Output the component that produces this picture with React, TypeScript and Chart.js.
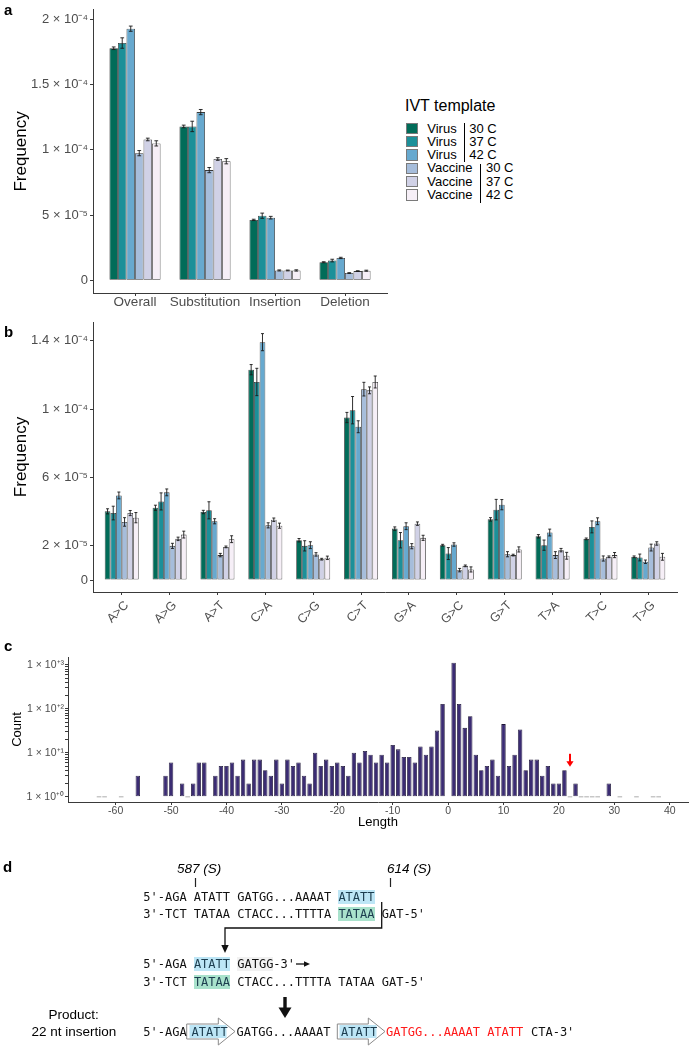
import React, { useEffect, useRef } from 'react';
import { Chart, registerables } from 'chart.js';

Chart.register(...registerables);

const SANS = '"Liberation Sans", Arial, Helvetica, sans-serif';
const MONO = '"DejaVu Sans Mono", monospace';
const TICK_GRAY = '#4d4d4d';
const AXIS = '#3a3a3a';

// ---------- shared series ----------
const SERIES_TEMPLATE = ['Virus', 'Virus', 'Virus', 'Vaccine', 'Vaccine', 'Vaccine'];
const SERIES_TEMP = ['30 C', '37 C', '42 C', '30 C', '37 C', '42 C'];
const SERIES_COLORS = ['#016c59', '#1c9099', '#67a9cf', '#a6bddb', '#d0d1e6', '#f6eff7'];

// ---------- panel a ----------
const A_CATEGORIES = ['Overall', 'Substitution', 'Insertion', 'Deletion'];
const A_VIRUS30 = [1.78e-4, 1.18e-4, 4.63e-5, 1.38e-5];
const A_VIRUS37 = [1.82e-4, 1.18e-4, 4.95e-5, 1.51e-5];
const A_VIRUS42 = [1.93e-4, 1.29e-4, 4.8e-5, 1.71e-5];
const A_VACCINE30 = [9.75e-5, 8.45e-5, 7.5e-6, 5.5e-6];
const A_VACCINE37 = [1.08e-4, 9.3e-5, 7.5e-6, 7.0e-6];
const A_VACCINE42 = [1.05e-4, 9.13e-5, 7.5e-6, 7.3e-6];
const A_ERR_VIRUS30 = [1.0e-6, 1.0e-6, 5e-7, 4e-7];
const A_ERR_VIRUS37 = [4.0e-6, 4.0e-6, 2.0e-6, 1.0e-6];
const A_ERR_VIRUS42 = [2.0e-6, 2.0e-6, 1.0e-6, 5e-7];
const A_ERR_VACCINE30 = [2.0e-6, 2.0e-6, 4e-7, 3e-7];
const A_ERR_VACCINE37 = [1.0e-6, 1.0e-6, 3e-7, 3e-7];
const A_ERR_VACCINE42 = [2.0e-6, 2.0e-6, 5e-7, 4e-7];
const A_TICKS = [0, 5e-5, 1e-4, 1.5e-4, 2e-4];
const A_TICK_LABELS = ['0', '5 × 10⁻⁵', '1 × 10⁻⁴', '1.5 × 10⁻⁴', '2 × 10⁻⁴'];
const A_Y_MIN = -9.8e-6;
const A_Y_MAX = 2.075e-4;

// ---------- panel b ----------
const B_CATEGORIES = ['A>C', 'A>G', 'A>T', 'C>A', 'C>G', 'C>T', 'G>A', 'G>C', 'G>T', 'T>A', 'T>C', 'T>G'];
const B_VIRUS30 = [4.02e-5, 4.23e-5, 3.98e-5, 1.231e-4, 2.33e-5, 9.51e-5, 3.01e-5, 2.04e-5, 3.55e-5, 2.56e-5, 2.41e-5, 1.36e-5];
const B_VIRUS37 = [3.92e-5, 4.6e-5, 4.08e-5, 1.159e-4, 2.0e-5, 9.94e-5, 2.33e-5, 1.55e-5, 4.12e-5, 2.04e-5, 3.11e-5, 1.32e-5];
const B_VIRUS42 = [4.95e-5, 5.13e-5, 3.44e-5, 1.392e-4, 2.04e-5, 8.97e-5, 3.15e-5, 2.08e-5, 4.41e-5, 2.78e-5, 3.44e-5, 1.07e-5];
const B_VACCINE30 = [3.4e-5, 2.0e-5, 1.46e-5, 3.2e-5, 1.5e-5, 1.117e-4, 1.98e-5, 5.8e-6, 1.51e-5, 1.46e-5, 1.26e-5, 1.9e-5];
const B_VACCINE37 = [3.92e-5, 2.41e-5, 1.94e-5, 3.53e-5, 1.22e-5, 1.11e-4, 3.3e-5, 8.3e-6, 1.46e-5, 1.75e-5, 1.36e-5, 2.14e-5];
const B_VACCINE42 = [3.65e-5, 2.66e-5, 2.39e-5, 3.18e-5, 1.3e-5, 1.159e-4, 2.47e-5, 6.2e-6, 1.79e-5, 1.42e-5, 1.46e-5, 1.36e-5];
const B_ERR_VIRUS30 = [1.5e-6, 1.5e-6, 1.0e-6, 3.0e-6, 1.0e-6, 3.0e-6, 1.0e-6, 5e-7, 1.0e-6, 1.0e-6, 5e-7, 5e-7];
const B_ERR_VIRUS37 = [4.0e-6, 5.0e-6, 5.0e-6, 8.0e-6, 3.0e-6, 8.0e-6, 4.5e-6, 3.5e-6, 6.0e-6, 3.0e-6, 3.5e-6, 2.0e-6];
const B_ERR_VIRUS42 = [2.0e-6, 2.0e-6, 1.5e-6, 5.0e-6, 2.0e-6, 3.5e-6, 2.0e-6, 1.0e-6, 3.0e-6, 2.0e-6, 2.0e-6, 1.0e-6];
const B_ERR_VACCINE30 = [2.5e-6, 1.5e-6, 1.0e-6, 1.5e-6, 1.0e-6, 4.0e-6, 1.5e-6, 1.0e-6, 1.5e-6, 2.0e-6, 1.5e-6, 2.0e-6];
const B_ERR_VACCINE37 = [1.5e-6, 1.0e-6, 5e-7, 1.0e-6, 5e-7, 2.0e-6, 1.0e-6, 5e-7, 5e-7, 1.0e-6, 5e-7, 1.0e-6];
const B_ERR_VACCINE42 = [3.0e-6, 2.0e-6, 2.0e-6, 1.5e-6, 1.0e-6, 3.5e-6, 1.5e-6, 1.5e-6, 1.5e-6, 2.0e-6, 1.5e-6, 2.0e-6];
const B_TICKS = [0, 2e-5, 6e-5, 1e-4, 1.4e-4];
const B_TICK_LABELS = ['0', '2 × 10⁻⁵', '6 × 10⁻⁵', '1 × 10⁻⁴', '1.4 × 10⁻⁴'];
const B_Y_MIN = -7e-6;
const B_Y_MAX = 1.51e-4;

// ---------- panel c ----------
const C_LENGTHS = [
  -56, -51, -50, -48, -46, -45, -44, -42,
  -41, -40, -39, -38, -37, -36, -35, -34, -33, -32, -31, -30, -29, -28, -27, -26, -25,
  -24, -23, -22, -21, -20, -19, -18, -17, -16, -15, -14, -13, -12, -11, -10,
  -9, -8, -7, -6, -5, -4, -3, -2, -1,
  1, 2, 3, 4, 5, 6, 7, 8, 9, 10, 11, 12, 13, 14, 15, 16, 17, 18, 19, 20, 21, 23, 29,
];
const C_COUNTS = [
  3, 3, 6, 2, 2, 6, 6, 3,
  5, 5, 6, 3, 7, 2, 7, 7, 4, 3, 7, 2, 7, 5, 6, 3, 2,
  10, 5, 7, 5, 6, 5, 3, 10, 6, 11, 9, 6, 9, 6, 15,
  12, 8, 8, 6, 14, 9, 14, 32, 129,
  1125, 129, 37, 68, 9, 4, 5, 7, 3, 45, 5, 9, 34, 4, 7, 7, 3, 5, 2, 2, 4, 2, 2,
];
const C_SINGLE_LENGTHS = [-63, -62, -59, -47, 22, 24, 25, 26, 27, 31, 34, 37, 38];
const C_X_TICKS = [-60, -50, -40, -30, -20, -10, 0, 10, 20, 30, 40];
const C_X_MIN = -68.6;
const C_X_MAX = 43.3;
const C_Y_MAJOR = [1, 10, 100, 1000];
const C_Y_LABELS = ['1 × 10⁺⁰', '1 × 10⁺¹', '1 × 10⁺²', '1 × 10⁺³'];
const C_Y_MIN = 0.76;
const C_Y_MAX = 1514;
const C_ARROW_LENGTH = 22;
const C_ARROW_FROM = 9.5;
const C_ARROW_TO = 4.8;
const C_FILL = '#3b2c73';

// ---------- plugins ----------
const errorBars = {
  id: 'errorBars',
  afterDatasetsDraw(chart: any) {
    const { ctx } = chart;
    const y = chart.scales.y;
    chart.data.datasets.forEach((ds: any, di: number) => {
      if (!ds.errors) return;
      const meta = chart.getDatasetMeta(di);
      meta.data.forEach((el: any, i: number) => {
        const v = ds.data[i].y;
        const e = ds.errors[i];
        const top = y.getPixelForValue(v + e);
        const bot = y.getPixelForValue(v - e);
        const hw = Math.max(1.5, el.width * 0.22);
        ctx.save();
        ctx.strokeStyle = '#1a1a1a';
        ctx.lineWidth = 0.9;
        ctx.beginPath();
        ctx.moveTo(el.x, top);
        ctx.lineTo(el.x, bot);
        ctx.moveTo(el.x - hw, top);
        ctx.lineTo(el.x + hw, top);
        ctx.moveTo(el.x - hw, bot);
        ctx.lineTo(el.x + hw, bot);
        ctx.stroke();
        ctx.restore();
      });
    });
  },
};

const redArrow = {
  id: 'redArrow',
  afterDatasetsDraw(chart: any) {
    const { ctx } = chart;
    const x = chart.scales.x.getPixelForValue(C_ARROW_LENGTH);
    const y1 = chart.scales.y.getPixelForValue(C_ARROW_FROM);
    const y2 = chart.scales.y.getPixelForValue(C_ARROW_TO);
    ctx.save();
    ctx.strokeStyle = '#ff0000';
    ctx.fillStyle = '#ff0000';
    ctx.lineWidth = 2;
    ctx.beginPath();
    ctx.moveTo(x, y1);
    ctx.lineTo(x, y2 - 4);
    ctx.stroke();
    ctx.beginPath();
    ctx.moveTo(x - 3.6, y2 - 5.5);
    ctx.lineTo(x + 3.6, y2 - 5.5);
    ctx.lineTo(x, y2);
    ctx.closePath();
    ctx.fill();
    ctx.restore();
  },
};

function groupedConfig(
  cats: string[],
  series: number[][],
  errs: number[][],
  ticks: number[],
  tickLabels: string[],
  yMin: number,
  yMax: number,
  catPct: number,
  padTop: number,
  padRight: number,
  xAxisH: number,
  rotation: number,
  catFont: number,
  labelPad: number,
  labelShift: number,
): any {
  return {
    type: 'bar',
    data: {
      datasets: series.map((vals, k) => ({
        label: `${SERIES_TEMPLATE[k]} | ${SERIES_TEMP[k]}`,
        data: vals.map((v, i) => ({ x: i + 1, y: v })),
        errors: errs[k],
        backgroundColor: SERIES_COLORS[k],
        borderColor: '#3a3a3a',
        borderWidth: 0.8,
        borderSkipped: false,
        categoryPercentage: catPct,
        barPercentage: 1,
      })),
    },
    options: {
      animation: false,
      responsive: false,
      maintainAspectRatio: false,
      layout: { padding: { top: padTop, right: padRight, left: 0, bottom: 0 } },
      plugins: { legend: { display: false }, tooltip: { enabled: false } },
      scales: {
        x: {
          type: 'linear',
          min: 0.4,
          max: cats.length + 0.6,
          offset: false,
          grid: { display: true, drawOnChartArea: false, drawTicks: true, tickLength: 3, color: AXIS, offset: false },
          border: { display: true, color: AXIS, width: 1 },
          afterBuildTicks: (s: any) => {
            s.ticks = cats.map((_, i) => ({ value: i + 1 }));
          },
          afterFit: (s: any) => {
            s.height = xAxisH;
          },
          ticks: {
            autoSkip: false,
            maxRotation: rotation,
            minRotation: rotation,
            padding: labelPad,
            labelOffset: labelShift,
            color: TICK_GRAY,
            font: { family: SANS, size: catFont, lineHeight: 1 },
            callback: (v: any) => cats[Math.round(v) - 1] ?? '',
          },
        },
        y: {
          type: 'linear',
          min: yMin,
          max: yMax,
          grid: { display: true, drawOnChartArea: false, drawTicks: true, tickLength: 3, color: AXIS },
          border: { display: true, color: AXIS, width: 1 },
          afterBuildTicks: (s: any) => {
            s.ticks = ticks.map((v) => ({ value: v }));
          },
          afterFit: (s: any) => {
            s.width = 93;
          },
          ticks: {
            padding: 2,
            color: TICK_GRAY,
            font: { family: SANS, size: 13 },
            callback: (v: any) => {
              const i = ticks.findIndex((t) => Math.abs(t - v) < 1e-12);
              return i >= 0 ? tickLabels[i] : '';
            },
          },
          title: {
            display: true,
            text: 'Frequency',
            color: '#000',
            font: { family: SANS, size: 17 },
            padding: { top: 11, bottom: 0 },
          },
        },
      },
    },
    plugins: [errorBars],
  };
}

function cConfig(): any {
  const allY: number[] = [];
  for (let k = 0; k < 3; k++) {
    for (let m = 1; m <= 9; m++) allY.push(m * Math.pow(10, k));
  }
  allY.push(1000);
  return {
    type: 'bar',
    data: {
      datasets: [
        {
          type: 'bar',
          data: C_LENGTHS.map((x, i) => ({ x, y: C_COUNTS[i] })),
          base: 1,
          backgroundColor: C_FILL,
          borderColor: '#1d1535',
          borderWidth: 0.8,
          borderSkipped: false,
          categoryPercentage: 0.8,
          barPercentage: 1,
        },
        {
          type: 'line',
          data: C_SINGLE_LENGTHS.map((x) => ({ x, y: 1 })),
          showLine: false,
          pointStyle: 'line',
          pointRadius: 2.3,
          pointBorderColor: '#c4c4c4',
          pointBorderWidth: 1.4,
          borderColor: '#c4c4c4',
        },
      ],
    },
    options: {
      animation: false,
      responsive: false,
      maintainAspectRatio: false,
      layout: { padding: { top: 12, right: 11, left: 0, bottom: 0 } },
      plugins: { legend: { display: false }, tooltip: { enabled: false } },
      scales: {
        x: {
          type: 'linear',
          min: C_X_MIN,
          max: C_X_MAX,
          offset: false,
          grid: { display: true, drawOnChartArea: false, drawTicks: true, tickLength: 3, color: AXIS, offset: false },
          border: { display: true, color: AXIS, width: 1 },
          afterBuildTicks: (s: any) => {
            s.ticks = C_X_TICKS.map((v) => ({ value: v }));
          },
          afterFit: (s: any) => {
            s.height = 33;
          },
          ticks: {
            autoSkip: false,
            maxRotation: 0,
            padding: 1,
            color: TICK_GRAY,
            font: { family: SANS, size: 10.5, lineHeight: 1 },
            callback: (v: any) => String(v),
          },
          title: {
            display: true,
            text: 'Length',
            color: '#000',
            font: { family: SANS, size: 13 },
            padding: { top: 0, bottom: 5 },
          },
        },
        y: {
          type: 'logarithmic',
          min: C_Y_MIN,
          max: C_Y_MAX,
          grid: { display: true, drawOnChartArea: false, drawTicks: true, tickLength: 3, color: AXIS },
          border: { display: true, color: AXIS, width: 1 },
          afterBuildTicks: (s: any) => {
            s.ticks = allY.map((v) => ({ value: v }));
          },
          afterFit: (s: any) => {
            s.width = 68;
          },
          ticks: {
            autoSkip: false,
            padding: 1,
            color: TICK_GRAY,
            font: { family: SANS, size: 10.5 },
            callback: (v: any) => {
              const i = C_Y_MAJOR.indexOf(v);
              return i >= 0 ? C_Y_LABELS[i] : '';
            },
          },
          title: {
            display: true,
            text: 'Count',
            color: '#000',
            font: { family: SANS, size: 13 },
            padding: { top: 9.7, bottom: 0 },
          },
        },
      },
    },
    plugins: [redArrow],
  };
}

const BLUE_HL = '#bde6f6';
const GREEN_HL = '#a9e2cc';
const GRAY_HL = '#f1f1f1';
const HL_TEXT = '#1c3d4f';

const hl = (bg: string, text: string) => (
  <span style={{ background: bg, color: HL_TEXT }}>{text}</span>
);

function SeqRow({ left, cy, children, color }: any) {
  return (
    <div
      style={{
        position: 'absolute',
        left,
        top: cy - 7,
        height: 14,
        lineHeight: '14px',
        fontFamily: MONO,
        fontSize: 12,
        whiteSpace: 'pre',
        color: color || '#111',
      }}
    >
      {children}
    </div>
  );
}

function Label({ left, cy, size, children, style }: any) {
  return (
    <div
      style={{
        position: 'absolute',
        left,
        top: cy - size * 0.6,
        height: size * 1.2,
        lineHeight: `${size * 1.2}px`,
        fontFamily: SANS,
        fontSize: size,
        whiteSpace: 'pre',
        color: '#000',
        ...style,
      }}
    >
      {children}
    </div>
  );
}

export default function App() {
  const aRef = useRef<HTMLCanvasElement>(null);
  const bRef = useRef<HTMLCanvasElement>(null);
  const cRef = useRef<HTMLCanvasElement>(null);

  useEffect(() => {
    Chart.defaults.font.family = SANS;
    const a = new Chart(
      aRef.current as HTMLCanvasElement,
      groupedConfig(
        A_CATEGORIES,
        [A_VIRUS30, A_VIRUS37, A_VIRUS42, A_VACCINE30, A_VACCINE37, A_VACCINE42],
        [A_ERR_VIRUS30, A_ERR_VIRUS37, A_ERR_VIRUS42, A_ERR_VACCINE30, A_ERR_VACCINE37, A_ERR_VACCINE42],
        A_TICKS,
        A_TICK_LABELS,
        A_Y_MIN,
        A_Y_MAX,
        0.73,
        5,
        13,
        27,
        0,
        13.5,
        0,
        0,
      ),
    );
    const b = new Chart(
      bRef.current as HTMLCanvasElement,
      groupedConfig(
        B_CATEGORIES,
        [B_VIRUS30, B_VIRUS37, B_VIRUS42, B_VACCINE30, B_VACCINE37, B_VACCINE42],
        [B_ERR_VIRUS30, B_ERR_VIRUS37, B_ERR_VIRUS42, B_ERR_VACCINE30, B_ERR_VACCINE37, B_ERR_VACCINE42],
        B_TICKS,
        B_TICK_LABELS,
        B_Y_MIN,
        B_Y_MAX,
        0.71,
        12,
        13,
        48,
        45,
        12.5,
        4,
        5,
      ),
    );
    const c = new Chart(cRef.current as HTMLCanvasElement, cConfig());
    return () => {
      a.destroy();
      b.destroy();
      c.destroy();
    };
  }, []);

  const legendRowY = (k: number) => 128.3 + k * 13.33;

  return (
    <div
      style={{
        position: 'absolute',
        left: 0,
        top: 0,
        width: 699,
        height: 1050,
        background: '#fff',
        fontFamily: SANS,
        overflow: 'hidden',
      }}
    >
      <canvas ref={aRef} width={400} height={320} style={{ position: 'absolute', left: 0, top: 0 }} />
      <canvas ref={bRef} width={690} height={330} style={{ position: 'absolute', left: 0, top: 310 }} />
      <canvas ref={cRef} width={699} height={190} style={{ position: 'absolute', left: 0, top: 645 }} />

      {/* panel letters */}
      <Label left={4} cy={10} size={15} style={{ fontWeight: 'bold' }}>a</Label>
      <Label left={4} cy={332} size={15} style={{ fontWeight: 'bold' }}>b</Label>
      <Label left={4} cy={646} size={15} style={{ fontWeight: 'bold' }}>c</Label>
      <Label left={3} cy={867} size={15} style={{ fontWeight: 'bold' }}>d</Label>

      {/* legend */}
      <Label left={405} cy={106} size={16}>IVT template</Label>
      {SERIES_TEMPLATE.map((t, k) => (
        <React.Fragment key={k}>
          <div
            style={{
              position: 'absolute',
              left: 406,
              top: legendRowY(k) - 5.7,
              width: 12,
              height: 11.5,
              background: SERIES_COLORS[k],
              border: '1px solid #7a7a7a',
              boxSizing: 'border-box',
            }}
          />
          <Label left={427.3} cy={legendRowY(k)} size={13}>{t}</Label>
          <Label left={t === 'Virus' ? 469.3 : 486} cy={legendRowY(k)} size={13}>{SERIES_TEMP[k]}</Label>
        </React.Fragment>
      ))}
      <div style={{ position: 'absolute', left: 463.5, top: 123, width: 1, height: 39, background: '#000' }} />
      <div style={{ position: 'absolute', left: 479.5, top: 164, width: 1, height: 39, background: '#000' }} />

      {/* panel d graphics */}
      <svg
        width={699}
        height={1050}
        style={{ position: 'absolute', left: 0, top: 0, pointerEvents: 'none' }}
      >
        <line x1={195.5} y1={878} x2={195.5} y2={887} stroke="#222" strokeWidth={1.2} />
        <line x1={390.5} y1={878} x2={390.5} y2={887} stroke="#222" strokeWidth={1.2} />
        <polyline
          points="381.7,902 381.7,928 225,928 225,946"
          fill="none"
          stroke="#111"
          strokeWidth={1.3}
        />
        <polygon points="221.3,945 228.7,945 225,953" fill="#111" />
        <line x1={296} y1={964} x2={305} y2={964} stroke="#111" strokeWidth={1.3} />
        <polygon points="304,961.3 310,964 304,966.7" fill="#111" />
        <rect x={283.3} y={997} width={3.4} height={11.5} fill="#111" />
        <polygon points="278.5,1007.5 291.5,1007.5 285,1018" fill="#111" />
        <polygon
          points="186.7,1024 218.3,1024 218.3,1018 235,1031.5 218.3,1045 218.3,1039 186.7,1039"
          fill="#fff"
          stroke="#8a8a8a"
          strokeWidth={1}
        />
        <rect x={189.5} y={1025} width={37} height={13} fill={BLUE_HL} />
        <polygon
          points="337.3,1024 368.3,1024 368.3,1018 385,1031.5 368.3,1045 368.3,1039 337.3,1039"
          fill="#fff"
          stroke="#8a8a8a"
          strokeWidth={1}
        />
        <rect x={339.5} y={1025} width={37} height={13} fill={BLUE_HL} />
      </svg>

      {/* panel d text */}
      <Label left={177} cy={869.5} size={13.5} style={{ fontStyle: 'italic' }}>587 (S)</Label>
      <Label left={387} cy={869.5} size={13.5} style={{ fontStyle: 'italic' }}>614 (S)</Label>

      <SeqRow left={143.3} cy={896.7}>
        {'5\'-AGA ATATT GATGG...AAAAT '}
        {hl(BLUE_HL, 'ATATT')}
      </SeqRow>
      <SeqRow left={143.3} cy={914.3}>
        {'3\'-TCT TATAA CTACC...TTTTA '}
        {hl(GREEN_HL, 'TATAA')}
        {' GAT-5\''}
      </SeqRow>
      <SeqRow left={143.3} cy={964}>
        {'5\'-AGA '}
        {hl(BLUE_HL, 'ATATT')}
        {' '}
        <span style={{ background: GRAY_HL }}>GATGG</span>
        {'-3\''}
      </SeqRow>
      <SeqRow left={143.3} cy={981.7}>
        {'3\'-TCT '}
        {hl(GREEN_HL, 'TATAA')}
        {' CTACC...TTTTA TATAA GAT-5\''}
      </SeqRow>

      <Label left={48.5} cy={1015} size={13.5}>Product:</Label>
      <Label left={31.5} cy={1032} size={13.5}>22 nt insertion</Label>

      <SeqRow left={143.3} cy={1031.7}>{'5\'-AGA'}</SeqRow>
      <SeqRow left={191.5} cy={1031.7} color={HL_TEXT}>ATATT</SeqRow>
      <SeqRow left={236.5} cy={1031.7}>{'GATGG...AAAAT'}</SeqRow>
      <SeqRow left={341} cy={1031.7} color={HL_TEXT}>ATATT</SeqRow>
      <SeqRow left={386} cy={1031.7} color="#ff1a1a">{'GATGG...AAAAT ATATT'}</SeqRow>
      <SeqRow left={531} cy={1031.7}>{'CTA-3\''}</SeqRow>
    </div>
  );
}
